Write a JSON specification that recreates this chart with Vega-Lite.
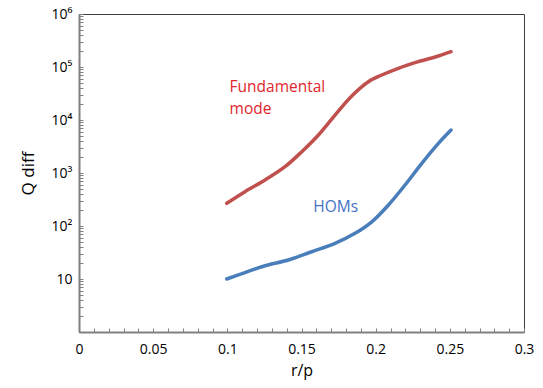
{
  "$schema": "https://vega.github.io/schema/vega-lite/v6.json",
  "width": 445,
  "height": 318,
  "autosize": "none",
  "padding": {"left": 79, "top": 14, "right": 19, "bottom": 56},
  "background": "white",
  "config": {
    "view": {"stroke": "#404040", "strokeWidth": 1},
    "font": "Open Sans"
  },
  "datasets": {
    "curves": [
      {"r": 0.0996, "q": 268, "series": "Fundamental mode"},
      {"r": 0.1119, "q": 444, "series": "Fundamental mode"},
      {"r": 0.1254, "q": 738, "series": "Fundamental mode"},
      {"r": 0.1389, "q": 1316, "series": "Fundamental mode"},
      {"r": 0.1502, "q": 2523, "series": "Fundamental mode"},
      {"r": 0.1614, "q": 5212, "series": "Fundamental mode"},
      {"r": 0.1726, "q": 12420, "series": "Fundamental mode"},
      {"r": 0.1839, "q": 28500, "series": "Fundamental mode"},
      {"r": 0.1951, "q": 52800, "series": "Fundamental mode"},
      {"r": 0.2041, "q": 70600, "series": "Fundamental mode"},
      {"r": 0.2153, "q": 94400, "series": "Fundamental mode"},
      {"r": 0.2288, "q": 125900, "series": "Fundamental mode"},
      {"r": 0.2423, "q": 161300, "series": "Fundamental mode"},
      {"r": 0.2508, "q": 194500, "series": "Fundamental mode"},
      {"r": 0.0996, "q": 10, "series": "HOMs"},
      {"r": 0.1119, "q": 13.2, "series": "HOMs"},
      {"r": 0.1254, "q": 17.8, "series": "HOMs"},
      {"r": 0.1411, "q": 22.8, "series": "HOMs"},
      {"r": 0.1569, "q": 32.7, "series": "HOMs"},
      {"r": 0.1726, "q": 47.1, "series": "HOMs"},
      {"r": 0.1861, "q": 72.8, "series": "HOMs"},
      {"r": 0.1974, "q": 120, "series": "HOMs"},
      {"r": 0.2086, "q": 249, "series": "HOMs"},
      {"r": 0.2198, "q": 594, "series": "HOMs"},
      {"r": 0.2311, "q": 1524, "series": "HOMs"},
      {"r": 0.2423, "q": 3630, "series": "HOMs"},
      {"r": 0.2508, "q": 6480, "series": "HOMs"}
    ],
    "labels": [
      {"r": 0.1015, "q": 34000, "text": "Fundamental", "series": "Fundamental mode"},
      {"r": 0.1015, "q": 13000, "text": "mode", "series": "Fundamental mode"},
      {"r": 0.158, "q": 185, "text": "HOMs", "series": "HOMs"}
    ]
  },
  "encoding": {
    "x": {
      "field": "r", "type": "quantitative",
      "scale": {"domain": [0, 0.3], "nice": false, "zero": false},
      "axis": {
        "title": "r/p",
        "values": [0,0.01,0.02,0.03,0.04,0.05,0.06,0.07,0.08,0.09,0.1,0.11,0.12,0.13,0.14,0.15,0.16,0.17,0.18,0.19,0.2,0.21,0.22,0.23,0.24,0.25,0.26,0.27,0.28,0.29,0.3],
        "labelExpr": "abs(datum.value*20 - round(datum.value*20)) < 1e-6 ? format(datum.value, '~g') : ''",
        "labelOverlap": false,
        "labelFlush": false,
        "grid": false,
        "domainColor": "#808080",
        "domainWidth": 2,
        "tickColor": "#808080",
        "tickWidth": 1,
        "tickSize": -4,
        "labelPadding": 14,
        "labelFontSize": 14,
        "labelColor": "#000000",
        "titleFontSize": 16,
        "titleFontWeight": "normal",
        "titleColor": "#000000",
        "titlePadding": 6
      }
    },
    "y": {
      "field": "q", "type": "quantitative",
      "scale": {"type": "log", "domain": [1, 1000000], "nice": false},
      "axis": {
        "title": "Q diff",
        "values": [1,2,3,4,5,6,7,8,9,10,20,30,40,50,60,70,80,90,100,200,300,400,500,600,700,800,900,1000,2000,3000,4000,5000,6000,7000,8000,9000,10000,20000,30000,40000,50000,60000,70000,80000,90000,100000,200000,300000,400000,500000,600000,700000,800000,900000,1000000],
        "labelExpr": "datum.value == 10 ? '10' : datum.value == 100 ? '10²' : datum.value == 1000 ? '10³' : datum.value == 10000 ? '10⁴' : datum.value == 100000 ? '10⁵' : datum.value == 1000000 ? '10⁶' : ''",
        "labelOverlap": false,
        "labelFlush": false,
        "grid": false,
        "domainColor": "#808080",
        "domainWidth": 2,
        "tickColor": "#808080",
        "tickWidth": 1,
        "tickSize": -4,
        "labelPadding": 11,
        "labelFontSize": 14,
        "labelColor": "#000000",
        "titleFontSize": 17,
        "titleFontWeight": "normal",
        "titleColor": "#000000",
        "titlePadding": 14
      }
    }
  },
  "layer": [
    {
      "data": {"name": "curves"},
      "mark": {"type": "line", "interpolate": "catmull-rom", "strokeWidth": 3.5, "strokeCap": "round", "clip": true},
      "encoding": {
        "color": {
          "field": "series", "type": "nominal",
          "scale": {"domain": ["Fundamental mode", "HOMs"], "range": ["#C0504D", "#4A7EBB"]},
          "legend": null
        }
      }
    },
    {
      "data": {"name": "labels"},
      "mark": {"type": "text", "align": "left", "baseline": "alphabetic", "fontSize": 15.5},
      "encoding": {
        "text": {"field": "text"},
        "color": {
          "field": "series", "type": "nominal",
          "scale": {"domain": ["Fundamental mode", "HOMs"], "range": ["#E0262C", "#4472C4"]},
          "legend": null
        }
      }
    }
  ],
  "resolve": {"scale": {"color": "independent"}}
}
